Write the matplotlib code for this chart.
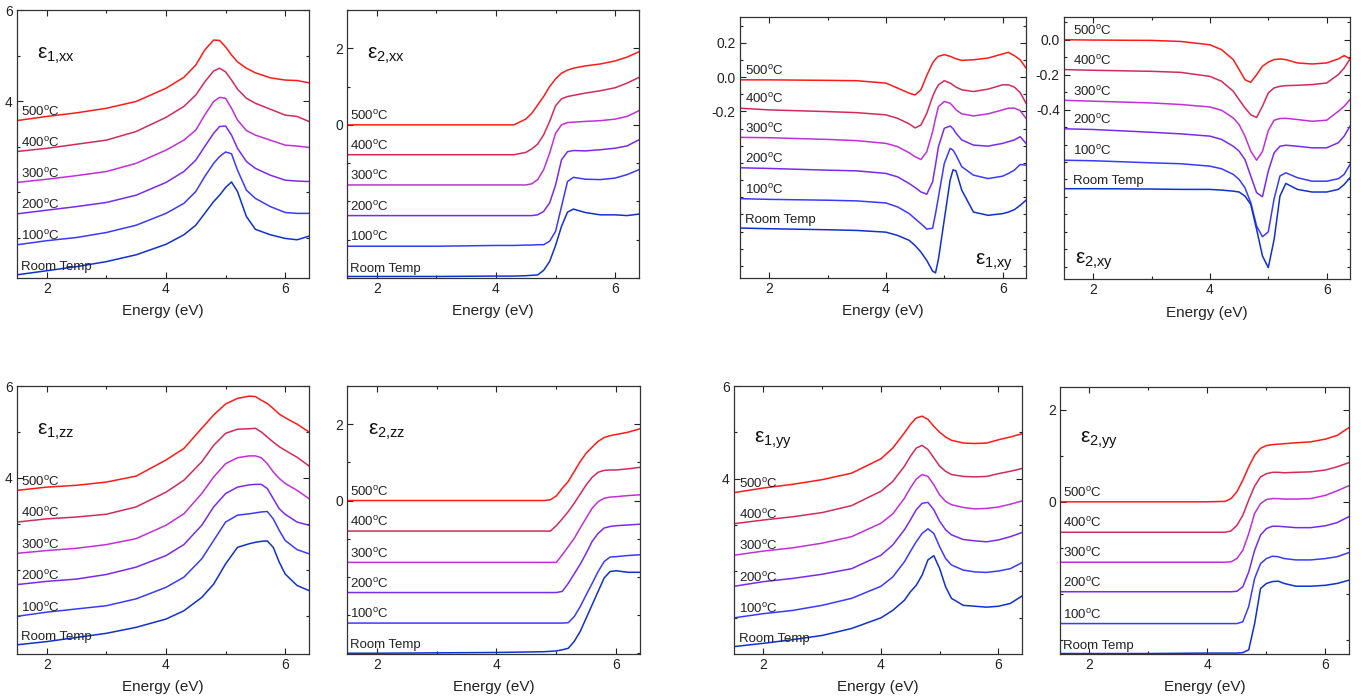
import matplotlib
matplotlib.use('Agg')
import matplotlib.pyplot as plt
from matplotlib.ticker import MultipleLocator, FixedLocator, FixedFormatter

plt.rcParams['font.family'] = ['Liberation Sans', 'DejaVu Sans']
plt.rcParams['mathtext.fontset'] = 'custom'
plt.rcParams['mathtext.rm'] = 'Liberation Sans'
plt.rcParams['mathtext.it'] = 'Liberation Sans:italic'
plt.rcParams['axes.unicode_minus'] = False

# ---------------- data ----------------
temp_labels = ['500$^{\\mathrm{o}}$C', '400$^{\\mathrm{o}}$C', '300$^{\\mathrm{o}}$C',
               '200$^{\\mathrm{o}}$C', '100$^{\\mathrm{o}}$C', 'Room Temp']
colors = ['#ff1a1a', '#d42a5a', '#c030d8', '#7a2aee', '#3a3aff', '#1030d0']

# eps1,xx
E_e1xx = [1.5, 2.0, 2.5, 3.0, 3.5, 4.0, 4.3, 4.5, 4.65, 4.8, 4.9, 5.0, 5.1, 5.2, 5.35, 5.5, 5.75, 6.0, 6.2, 6.4]
e1xx = [
    [3.57, 3.66, 3.74, 3.84, 3.99, 4.28, 4.52, 4.79, 5.12, 5.34, 5.33, 5.19, 5.01, 4.86, 4.72, 4.62, 4.51, 4.46, 4.45, 4.40],
    [2.89, 2.96, 3.05, 3.14, 3.33, 3.64, 3.88, 4.13, 4.42, 4.66, 4.72, 4.64, 4.46, 4.26, 4.06, 3.95, 3.82, 3.69, 3.66, 3.55],
    [2.21, 2.28, 2.36, 2.45, 2.63, 2.92, 3.14, 3.36, 3.69, 3.99, 4.08, 4.06, 3.84, 3.58, 3.35, 3.25, 3.14, 3.03, 3.01, 2.98],
    [1.52, 1.60, 1.68, 1.77, 1.93, 2.21, 2.45, 2.70, 3.00, 3.29, 3.44, 3.45, 3.25, 2.96, 2.67, 2.52, 2.37, 2.26, 2.24, 2.23],
    [0.84, 0.93, 1.00, 1.11, 1.27, 1.53, 1.75, 2.01, 2.34, 2.63, 2.78, 2.88, 2.84, 2.48, 2.04, 1.86, 1.68, 1.55, 1.53, 1.53],
    [0.18, 0.27, 0.36, 0.47, 0.62, 0.85, 1.06, 1.27, 1.53, 1.79, 1.93, 2.10, 2.22, 2.01, 1.46, 1.18, 1.06, 0.98, 0.95, 1.03],
]

# eps2,xx
E_e2xx = [1.5, 2.0, 3.0, 4.0, 4.3, 4.5, 4.6, 4.7, 4.8, 4.9, 5.0, 5.1, 5.2, 5.3, 5.5, 5.75, 6.0, 6.2, 6.4]
e2xx = [
    [0.0, 0.0, 0.0, 0.0, 0.0, 0.15, 0.30, 0.52, 0.74, 1.00, 1.20, 1.35, 1.43, 1.48, 1.54, 1.59, 1.67, 1.77, 1.91],
    [-0.78, -0.78, -0.78, -0.78, -0.78, -0.72, -0.63, -0.50, -0.26, 0.09, 0.50, 0.68, 0.74, 0.77, 0.83, 0.89, 0.97, 1.09, 1.24],
    [-1.57, -1.57, -1.57, -1.57, -1.57, -1.57, -1.54, -1.43, -1.17, -0.74, -0.22, 0.00, 0.06, 0.07, 0.09, 0.11, 0.15, 0.22, 0.37],
    [-2.37, -2.37, -2.37, -2.37, -2.37, -2.37, -2.37, -2.35, -2.26, -2.04, -1.57, -0.91, -0.70, -0.67, -0.68, -0.65, -0.61, -0.55, -0.39],
    [-3.17, -3.17, -3.17, -3.15, -3.15, -3.14, -3.14, -3.13, -3.13, -3.04, -2.78, -2.13, -1.48, -1.37, -1.42, -1.43, -1.39, -1.30, -1.17],
    [-3.96, -3.96, -3.96, -3.95, -3.95, -3.94, -3.93, -3.92, -3.80, -3.57, -3.15, -2.65, -2.28, -2.20, -2.29, -2.35, -2.35, -2.37, -2.33],
]

# eps1,xy
E_e1xy = [1.5, 2.0, 3.0, 3.5, 4.0, 4.2, 4.4, 4.5, 4.6, 4.7, 4.8, 4.85, 4.9, 5.0, 5.1, 5.15, 5.2, 5.3, 5.5, 5.75, 6.0, 6.1, 6.2, 6.3, 6.4]
e1xy = [
    [-0.016, -0.016, -0.019, -0.021, -0.035, -0.064, -0.094, -0.104, -0.074, 0.010, 0.082, 0.105, 0.121, 0.131, 0.121, 0.114, 0.107, 0.097, 0.101, 0.111, 0.135, 0.144, 0.125, 0.101, 0.053],
    [-0.181, -0.191, -0.201, -0.207, -0.220, -0.240, -0.273, -0.296, -0.279, -0.211, -0.113, -0.075, -0.045, -0.021, -0.035, -0.046, -0.058, -0.074, -0.084, -0.070, -0.045, -0.045, -0.058, -0.090, -0.152],
    [-0.351, -0.353, -0.363, -0.370, -0.386, -0.405, -0.441, -0.464, -0.480, -0.435, -0.318, -0.240, -0.172, -0.142, -0.152, -0.170, -0.191, -0.214, -0.226, -0.214, -0.191, -0.181, -0.181, -0.195, -0.240],
    [-0.528, -0.532, -0.542, -0.546, -0.561, -0.581, -0.620, -0.643, -0.669, -0.682, -0.610, -0.510, -0.405, -0.298, -0.285, -0.300, -0.327, -0.366, -0.396, -0.402, -0.386, -0.376, -0.366, -0.347, -0.386],
    [-0.708, -0.712, -0.717, -0.721, -0.733, -0.756, -0.795, -0.825, -0.854, -0.885, -0.880, -0.795, -0.698, -0.503, -0.415, -0.425, -0.454, -0.522, -0.571, -0.591, -0.577, -0.561, -0.542, -0.509, -0.513],
    [-0.879, -0.883, -0.889, -0.893, -0.903, -0.922, -0.951, -0.981, -1.019, -1.068, -1.130, -1.140, -1.060, -0.830, -0.600, -0.540, -0.546, -0.659, -0.786, -0.805, -0.795, -0.786, -0.772, -0.747, -0.717],
]

# eps2,xy
E_e2xy = [1.5, 2.0, 3.0, 3.5, 4.0, 4.2, 4.4, 4.5, 4.6, 4.7, 4.8, 4.9, 5.0, 5.1, 5.2, 5.3, 5.5, 5.75, 6.0, 6.2, 6.3, 6.4]
e2xy = [
    [0.0, -0.002, -0.004, -0.010, -0.029, -0.057, -0.114, -0.171, -0.229, -0.244, -0.200, -0.152, -0.128, -0.114, -0.110, -0.114, -0.133, -0.139, -0.133, -0.110, -0.091, -0.109],
    [-0.171, -0.175, -0.181, -0.187, -0.210, -0.238, -0.295, -0.343, -0.390, -0.430, -0.445, -0.381, -0.305, -0.276, -0.267, -0.263, -0.261, -0.257, -0.248, -0.200, -0.162, -0.110],
    [-0.347, -0.352, -0.362, -0.371, -0.385, -0.404, -0.448, -0.486, -0.552, -0.638, -0.690, -0.640, -0.520, -0.461, -0.451, -0.450, -0.457, -0.467, -0.461, -0.410, -0.381, -0.343],
    [-0.510, -0.514, -0.530, -0.539, -0.552, -0.571, -0.610, -0.638, -0.686, -0.781, -0.876, -0.899, -0.752, -0.648, -0.610, -0.604, -0.610, -0.619, -0.619, -0.590, -0.552, -0.495],
    [-0.690, -0.693, -0.705, -0.710, -0.724, -0.739, -0.771, -0.800, -0.848, -0.933, -1.067, -1.128, -1.100, -0.910, -0.780, -0.762, -0.790, -0.810, -0.810, -0.796, -0.771, -0.714],
    [-0.853, -0.853, -0.855, -0.857, -0.857, -0.861, -0.867, -0.872, -0.895, -0.943, -1.086, -1.238, -1.305, -1.143, -0.895, -0.823, -0.857, -0.872, -0.872, -0.857, -0.829, -0.790],
]

# eps1,zz
E_e1zz = [1.5, 2.0, 2.5, 3.0, 3.5, 4.0, 4.3, 4.6, 4.8, 5.0, 5.2, 5.4, 5.5, 5.6, 5.7, 5.8, 5.9, 6.0, 6.2, 6.4]
e1zz = [
    [3.73, 3.80, 3.84, 3.91, 4.04, 4.39, 4.64, 5.08, 5.37, 5.61, 5.73, 5.78, 5.77, 5.69, 5.62, 5.51, 5.39, 5.31, 5.17, 5.00],
    [3.04, 3.11, 3.15, 3.21, 3.37, 3.69, 3.95, 4.35, 4.71, 4.97, 5.06, 5.07, 5.08, 5.00, 4.89, 4.78, 4.68, 4.60, 4.45, 4.26],
    [2.36, 2.42, 2.47, 2.55, 2.68, 2.97, 3.22, 3.66, 4.02, 4.31, 4.44, 4.48, 4.48, 4.44, 4.31, 4.13, 3.99, 3.88, 3.73, 3.55],
    [1.68, 1.75, 1.80, 1.90, 2.06, 2.31, 2.55, 2.97, 3.37, 3.66, 3.80, 3.85, 3.86, 3.86, 3.77, 3.55, 3.33, 3.21, 3.04, 2.97],
    [0.99, 1.08, 1.15, 1.22, 1.37, 1.62, 1.84, 2.24, 2.64, 3.04, 3.19, 3.22, 3.24, 3.26, 3.27, 3.11, 2.86, 2.64, 2.44, 2.35],
    [0.37, 0.44, 0.53, 0.62, 0.75, 0.93, 1.11, 1.40, 1.69, 2.13, 2.49, 2.57, 2.60, 2.62, 2.63, 2.49, 2.17, 1.91, 1.66, 1.55],
]

# eps2,zz
E_e2zz = [1.5, 2.0, 3.0, 4.0, 4.8, 4.9, 5.0, 5.1, 5.2, 5.3, 5.4, 5.5, 5.6, 5.7, 5.8, 5.9, 6.0, 6.2, 6.4]
e2zz = [
    [0.0, 0.0, 0.0, 0.0, 0.0, 0.02, 0.12, 0.32, 0.50, 0.76, 1.02, 1.24, 1.40, 1.55, 1.65, 1.70, 1.73, 1.79, 1.88],
    [-0.80, -0.80, -0.80, -0.80, -0.80, -0.80, -0.66, -0.48, -0.29, -0.07, 0.17, 0.41, 0.61, 0.74, 0.79, 0.80, 0.80, 0.83, 0.87],
    [-1.62, -1.62, -1.62, -1.62, -1.62, -1.62, -1.62, -1.42, -1.21, -0.99, -0.72, -0.46, -0.20, -0.03, 0.06, 0.09, 0.10, 0.13, 0.15],
    [-2.41, -2.41, -2.41, -2.41, -2.41, -2.41, -2.41, -2.38, -2.17, -1.92, -1.67, -1.38, -1.07, -0.86, -0.72, -0.68, -0.66, -0.64, -0.62],
    [-3.21, -3.21, -3.21, -3.21, -3.21, -3.21, -3.21, -3.21, -3.20, -3.04, -2.78, -2.47, -2.17, -1.86, -1.60, -1.48, -1.47, -1.44, -1.42],
    [-4.00, -4.00, -3.99, -3.98, -3.96, -3.95, -3.94, -3.91, -3.87, -3.69, -3.43, -3.08, -2.73, -2.38, -2.03, -1.86, -1.84, -1.88, -1.88],
]

# eps1,yy
E_e1yy = [1.5, 2.0, 2.5, 3.0, 3.5, 4.0, 4.2, 4.4, 4.5, 4.6, 4.7, 4.8, 4.9, 5.0, 5.1, 5.2, 5.4, 5.6, 5.8, 6.0, 6.2, 6.4]
e1yy = [
    [3.70, 3.80, 3.88, 3.98, 4.12, 4.43, 4.66, 4.99, 5.17, 5.31, 5.35, 5.28, 5.13, 5.00, 4.90, 4.83, 4.77, 4.76, 4.77, 4.84, 4.90, 4.97],
    [3.03, 3.11, 3.18, 3.27, 3.42, 3.73, 3.94, 4.27, 4.48, 4.66, 4.72, 4.63, 4.45, 4.27, 4.16, 4.09, 4.05, 4.04, 4.05, 4.11, 4.16, 4.22],
    [2.35, 2.44, 2.51, 2.61, 2.75, 3.04, 3.24, 3.58, 3.80, 3.99, 4.09, 4.05, 3.87, 3.65, 3.51, 3.44, 3.38, 3.35, 3.36, 3.39, 3.45, 3.52],
    [1.68, 1.78, 1.85, 1.94, 2.06, 2.35, 2.57, 2.90, 3.11, 3.33, 3.47, 3.49, 3.33, 3.08, 2.90, 2.79, 2.69, 2.66, 2.64, 2.68, 2.75, 2.84],
    [1.00, 1.09, 1.16, 1.27, 1.42, 1.68, 1.88, 2.21, 2.43, 2.64, 2.82, 2.92, 2.82, 2.53, 2.28, 2.14, 2.03, 1.99, 1.98, 2.01, 2.06, 2.19],
    [0.38, 0.45, 0.53, 0.62, 0.77, 1.00, 1.16, 1.38, 1.56, 1.70, 1.92, 2.25, 2.34, 2.06, 1.67, 1.42, 1.27, 1.25, 1.23, 1.25, 1.31, 1.47],
]

# eps2,yy
E_e2yy = [1.5, 2.0, 3.0, 4.0, 4.3, 4.4, 4.5, 4.6, 4.7, 4.8, 4.9, 5.0, 5.1, 5.2, 5.3, 5.5, 5.75, 6.0, 6.2, 6.4]
e2yy = [
    [0.0, 0.0, 0.0, 0.0, 0.01, 0.07, 0.22, 0.47, 0.76, 1.01, 1.16, 1.22, 1.24, 1.25, 1.26, 1.28, 1.30, 1.36, 1.44, 1.61],
    [-0.66, -0.66, -0.66, -0.66, -0.66, -0.63, -0.51, -0.29, 0.04, 0.34, 0.54, 0.61, 0.64, 0.64, 0.63, 0.64, 0.65, 0.69, 0.76, 0.85],
    [-1.31, -1.31, -1.31, -1.31, -1.31, -1.30, -1.23, -1.05, -0.69, -0.25, -0.04, 0.05, 0.07, 0.07, 0.06, 0.06, 0.07, 0.14, 0.24, 0.35],
    [-1.95, -1.95, -1.95, -1.95, -1.95, -1.95, -1.94, -1.84, -1.52, -1.05, -0.72, -0.58, -0.53, -0.53, -0.54, -0.56, -0.56, -0.52, -0.45, -0.32],
    [-2.64, -2.64, -2.64, -2.64, -2.64, -2.64, -2.64, -2.60, -2.27, -1.66, -1.34, -1.23, -1.18, -1.19, -1.23, -1.26, -1.26, -1.23, -1.19, -1.10],
    [-3.29, -3.29, -3.29, -3.28, -3.28, -3.28, -3.28, -3.27, -3.21, -2.64, -1.88, -1.77, -1.73, -1.72, -1.77, -1.83, -1.83, -1.81, -1.77, -1.70],
]

# ---------------- layout ----------------
W, H = 1363, 700
fig = plt.figure(figsize=(W / 100, H / 100), dpi=100)


def px_axes(left, right, top, bottom):
    return fig.add_axes([left / W, (H - bottom) / H, (right - left) / W, (bottom - top) / H])


panels = [
    # (box px, E, curves, ylim, ytick labels, fmt, minor, name, name pos, label dx px)
    ((17, 309, 10, 278), E_e1xx, e1xx, (0.11, 6.0), [4, 6], '%d', 1.0, '1{,}xx', (0.07, 0.82), 4),
    ((347, 639, 10, 278), E_e2xx, e2xx, (-4.0, 3.0), [0, 2], '%d', 1.0, '2{,}xx', (0.07, 0.82), 3),
    ((740, 1026, 17, 278), E_e1xy, e1xy, (-1.17, 0.35), [-0.2, 0.0, 0.2], '%.1f', 0.1, '1{,}xy', (0.82, 0.05), 5),
    ((1064, 1350, 17, 279), E_e2xy, e2xy, (-1.37, 0.13), [-0.4, -0.2, 0.0], '%.1f', 0.1, '2{,}xy', (0.04, 0.06), 9),
    ((17, 309, 386, 654), E_e1zz, e1zz, (0.17, 6.0), [4, 6], '%d', 1.0, '1{,}zz', (0.07, 0.82), 4),
    ((347, 640, 386, 654), E_e2zz, e2zz, (-4.02, 3.0), [0, 2], '%d', 1.0, '2{,}zz', (0.07, 0.82), 3),
    ((734, 1022, 386, 654), E_e1yy, e1yy, (0.22, 6.0), [4, 6], '%d', 1.0, '1{,}yy', (0.07, 0.79), 5),
    ((1060, 1349, 387, 654), E_e2yy, e2yy, (-3.30, 2.49), [0, 2], '%d', 1.0, '2{,}yy', (0.07, 0.79), 3),
]

for box, E, curves, ylim, yt, fmt, minor, name, npos, ldx in panels:
    ax = px_axes(*box)
    for vals, c, lab in zip(curves, colors, temp_labels):
        ax.plot(E, vals, color=c, lw=1.1, solid_joinstyle='round')
        ax.annotate(lab, xy=(E[0], vals[0]), xytext=(ldx * 0.72, 3.5),
                    textcoords='offset points', fontsize=9.5, ha='left', va='baseline',
                    color='#222222')
    ax.set_xlim(1.5, 6.4)
    ax.set_ylim(*ylim)
    ax.xaxis.set_major_locator(FixedLocator([2, 4, 6]))
    ax.xaxis.set_minor_locator(MultipleLocator(1))
    ax.yaxis.set_major_locator(FixedLocator(yt))
    ax.yaxis.set_major_formatter(FixedFormatter([fmt % v for v in yt]))
    ax.yaxis.set_minor_locator(MultipleLocator(minor))
    ax.tick_params(which='both', direction='in', top=True, right=True, labelsize=10,
                   colors='#222222', width=0.8)
    ax.tick_params(which='major', length=4, pad=3)
    ax.tick_params(which='minor', length=2.5)
    for s in ax.spines.values():
        s.set_linewidth(0.9)
        s.set_color('#333333')
    ax.set_xlabel('Energy (eV)', fontsize=11, labelpad=6, color='#222222')
    ax.text(npos[0], npos[1], 'ε$_{\\mathrm{' + name + '}}$', transform=ax.transAxes,
            fontsize=15, ha='left', va='baseline', color='#111111')

fig.savefig('out.png', dpi=100)
